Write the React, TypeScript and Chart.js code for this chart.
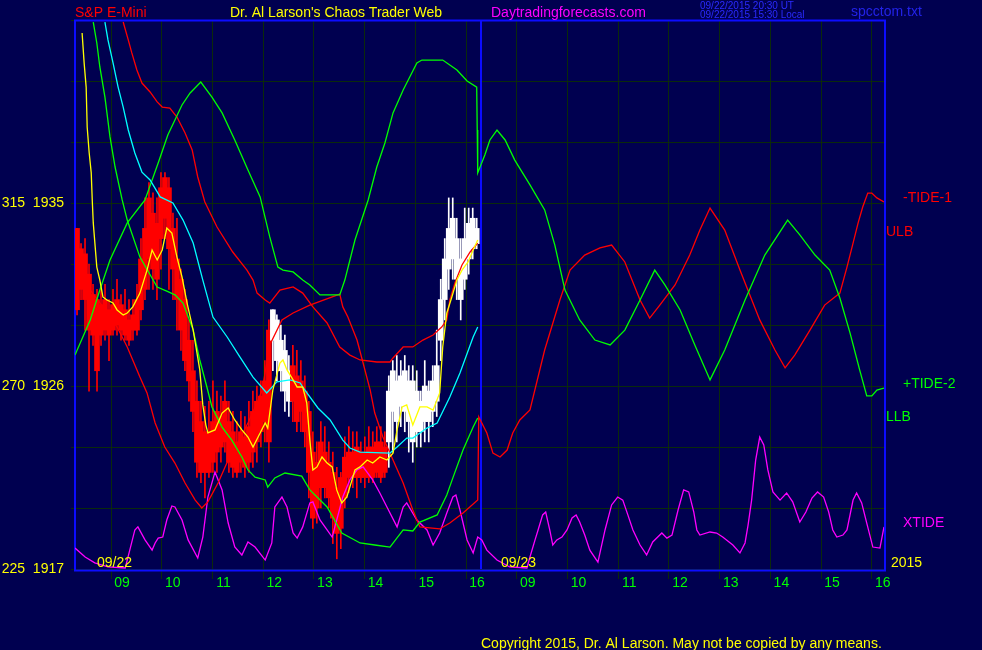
import { useEffect, useRef } from "react";
import { Chart, registerables } from "chart.js";

Chart.register(...registerables);

// ---------- axes ----------
const T_MIN = 8.29;
const T_MAX = 24.24;
const DAY_SPLIT = 16.29;
const HOUR_TICKS = [9, 10, 11, 12, 13, 14, 15, 16, 17, 18, 19, 20, 21, 22, 23, 24];
const HOUR_LABELS = ["09", "10", "11", "12", "13", "14", "15", "16", "09", "10", "11", "12", "13", "14", "15", "16"];
const P_MIN = 1917;
const P_MAX = 1944;
const P_STEP = 3;
const PRICE_LABELS = [1917, 1926, 1935];
const TIDE_LABELS = [225, 270, 315];

// ---------- candles (day 1) ----------
const BAR_T0 = 8.33;
const BAR_STEP = 0.0788;
const OPEN = [
  1933.75, 1932.75, 1932.5, 1931.5, 1930.5, 1930.25, 1928.5, 1930.25, 1929.75, 1928.75,
  1930.25, 1930, 1928.5, 1929.25, 1928.75, 1928.75, 1929.75, 1930.75, 1932.25, 1934.5,
  1931.25, 1933.25, 1934.25, 1935.75, 1933.75, 1932.25, 1931.25, 1930.25, 1928.25, 1926.75,
  1925.25, 1924.25, 1921.75, 1923.75, 1922.25, 1924.75, 1923, 1923.25, 1924.25, 1923.75,
  1921.75, 1923.75, 1922, 1924, 1922.75, 1923.25, 1925.5, 1924.25, 1923.25, 1928.25,
  1929.25, 1928.25, 1925.75, 1926.75, 1927, 1926.5, 1924.75, 1925.75, 1924.75, 1922.75,
  1920, 1923.25, 1921, 1922.25, 1921.75, 1921, 1919, 1920.5, 1922.75, 1921.5,
  1923, 1921.5, 1922.75, 1921.5, 1923, 1921.75, 1923.25, 1921.75, 1923.25, 1924.75,
  1926.25, 1925, 1924.75, 1926.25, 1923.25, 1925.75, 1923.75, 1924.25, 1925.75, 1924.75,
  1925.25, 1928.25, 1930.25, 1931.75, 1932.25, 1933.25, 1932.25, 1931.25, 1932.25, 1934.25, 1933,
];
const HIGH = [
  1933.75, 1933, 1933.25, 1932, 1931, 1930.75, 1930.75, 1931, 1930.25, 1930.75,
  1931.25, 1930.5, 1930.75, 1930.25, 1930.25, 1931, 1933.25, 1935.25, 1936, 1935.5,
  1935.25, 1936.5, 1936.5, 1936.25, 1934.5, 1934.25, 1931.75, 1930.75, 1929.25, 1928.25,
  1926.25, 1925.25, 1925, 1925.25, 1926.25, 1925.75, 1925.5, 1926.25, 1925.25, 1924.75,
  1924.25, 1924.75, 1924.5, 1925.25, 1925.75, 1926, 1926.25, 1927.25, 1929.25, 1929.75,
  1929.5, 1929, 1928.5, 1927.5, 1928, 1927.75, 1927.25, 1926.5, 1925.25, 1923.75,
  1923.25, 1924.25, 1924, 1923.25, 1922.75, 1922, 1921.75, 1923.5, 1924, 1923.75,
  1923.75, 1923.25, 1923.5, 1924, 1923.75, 1924, 1924, 1923.75, 1926.5, 1927.25,
  1927.5, 1927.25, 1927.5, 1927, 1927, 1926.75, 1925.75, 1927.25, 1926.25, 1927,
  1928.75, 1931.25, 1933.25, 1935.25, 1935.25, 1934.25, 1933.25, 1934.75, 1934.75, 1934.75, 1934.25,
];
const LOW = [
  1929.5, 1930.25, 1928.75, 1925.75, 1928, 1925.75, 1928, 1928.25, 1927.25, 1928.5,
  1928.5, 1928.25, 1928.25, 1928, 1928.25, 1928.5, 1929.25, 1930.25, 1930.75, 1930.75,
  1930.25, 1931.75, 1933.25, 1930.75, 1930.25, 1928.75, 1927.75, 1926.75, 1925.25, 1923.75,
  1921.5, 1921.25, 1920.5, 1921.5, 1921.75, 1921.75, 1922.25, 1922.75, 1921.75, 1921.5,
  1921.5, 1921.75, 1921.5, 1921.75, 1922, 1922.25, 1923, 1923.25, 1922.25, 1926.75,
  1926.25, 1925.75, 1924.75, 1924.5, 1924.25, 1923.75, 1923.75, 1923, 1920.5, 1919,
  1919.25, 1920, 1920.5, 1920, 1918.25, 1917.5, 1918, 1920, 1920.75, 1921,
  1920.5, 1921.25, 1921, 1921.25, 1921.25, 1921.5, 1921.25, 1921.5, 1922, 1922.75,
  1923.25, 1924, 1923.75, 1922.75, 1922.25, 1923, 1923, 1923.25, 1923.25, 1924,
  1924.5, 1927.25, 1929.25, 1930.75, 1931.25, 1930.25, 1929.25, 1930.75, 1931.5, 1932.25, 1932.75,
];
const CLOSE = [
  1929.75, 1930.75, 1930.25, 1928.75, 1928.5, 1926.75, 1930, 1928.75, 1928.5, 1930,
  1929, 1928.75, 1929.75, 1928.25, 1929.5, 1930.25, 1932.25, 1933.75, 1935.25, 1931.75,
  1934, 1935.75, 1936.25, 1932.75, 1931.75, 1930.25, 1928.75, 1927.25, 1926.25, 1924.75,
  1922.25, 1921.75, 1923.75, 1921.75, 1924.25, 1922.75, 1924.5, 1925.25, 1922.25, 1922,
  1923.25, 1922.25, 1923.5, 1922.25, 1924.75, 1925.25, 1923.75, 1926.25, 1928.75, 1929.75,
  1927.25, 1926.75, 1927.75, 1925.25, 1925.25, 1924.25, 1926.25, 1923.75, 1921.75, 1919.5,
  1922.25, 1921, 1922.75, 1920.5, 1919.5, 1918.75, 1921.5, 1922.5, 1921.5, 1922.75,
  1921.5, 1922.75, 1921.5, 1923, 1921.5, 1923.25, 1921.5, 1923, 1925.75, 1926.75,
  1924.25, 1926.5, 1926.75, 1924.25, 1926.25, 1923.75, 1925.25, 1926, 1924.25, 1926.25,
  1927, 1930.25, 1932.25, 1933.75, 1934.25, 1931.25, 1930.25, 1933.25, 1934, 1932.75, 1933.75,
];
const WHITE_BAR_RANGES = [[49, 53], [78, 100]];

// ---------- lines: [time, price] ----------
const YELLOW_MA = [
  [8.43, 1943.36], [8.47, 1941.89], [8.51, 1940.7], [8.53, 1938.74], [8.57, 1937.46], [8.61, 1936.48],
  [8.63, 1935.15], [8.65, 1934.02], [8.72, 1931.85], [8.78, 1931.21], [8.84, 1930.38], [8.92, 1930.23],
  [9.04, 1930.08], [9.12, 1929.74], [9.24, 1929.49], [9.32, 1929.59], [9.43, 1929.89], [9.57, 1930.57],
  [9.71, 1931.7], [9.81, 1932.69], [9.91, 1932.2], [10.01, 1932.69], [10.1, 1933.77], [10.2, 1933.52],
  [10.3, 1932.34], [10.4, 1931.36], [10.5, 1930.08], [10.62, 1928.75], [10.75, 1926.79], [10.81, 1925.07],
  [10.87, 1924.08], [10.91, 1923.69], [11.05, 1923.84], [11.19, 1924.67], [11.31, 1924.92], [11.44, 1924.33],
  [11.58, 1923.84], [11.7, 1923.49], [11.8, 1923.0], [11.9, 1923.49], [12.04, 1924.18], [12.09, 1923.93],
  [12.19, 1925.8], [12.33, 1927.13], [12.39, 1927.28], [12.47, 1926.79], [12.59, 1926.3], [12.67, 1925.95],
  [12.78, 1925.95], [12.86, 1925.16], [12.92, 1923.34], [12.98, 1921.87], [13.06, 1922.02], [13.16, 1922.51],
  [13.26, 1922.21], [13.36, 1922.02], [13.45, 1920.89], [13.55, 1920.25], [13.65, 1920.54], [13.81, 1921.87],
  [13.91, 1922.02], [14.05, 1922.36], [14.16, 1922.21], [14.3, 1922.51], [14.44, 1922.36], [14.56, 1922.7],
  [14.64, 1923.84], [14.74, 1924.97], [14.83, 1925.07], [14.95, 1924.08], [15.09, 1924.97], [15.23, 1924.97],
  [15.35, 1924.82], [15.48, 1925.66], [15.54, 1927.92], [15.62, 1929.59], [15.72, 1930.38], [15.82, 1931.21],
  [15.92, 1931.7], [16.04, 1932.1], [16.14, 1932.69], [16.23, 1933.18],
];
const CYAN_MA = [
  [8.88, 1943.9], [8.94, 1943.02], [9.04, 1941.89], [9.14, 1940.7], [9.24, 1939.72], [9.34, 1938.59],
  [9.47, 1937.46], [9.61, 1936.52], [9.77, 1936.13], [9.97, 1935.3], [10.22, 1935.0], [10.42, 1934.16],
  [10.62, 1933.03], [10.81, 1931.21], [11.01, 1929.39], [11.29, 1928.41], [11.54, 1927.43], [11.8, 1926.44],
  [12.07, 1925.66], [12.27, 1926.2], [12.53, 1926.3], [12.73, 1926.15], [12.78, 1925.95], [13.08, 1924.92],
  [13.32, 1924.33], [13.57, 1923.34], [13.71, 1922.95], [13.91, 1922.75], [14.5, 1922.7], [14.64, 1923.0],
  [14.83, 1923.44], [14.95, 1923.44], [15.23, 1923.93], [15.43, 1924.18], [15.68, 1925.46], [15.88, 1926.64],
  [16.14, 1928.41], [16.23, 1928.9],
];
const TIDE_2 = [
  [8.29, 1927.52], [8.59, 1929.25], [8.78, 1930.72], [8.98, 1932.2], [9.32, 1934.02], [9.67, 1935.15],
  [9.93, 1936.97], [10.12, 1938.34], [10.26, 1939.08], [10.4, 1939.82], [10.56, 1940.41], [10.77, 1940.95],
  [10.99, 1940.21], [11.19, 1939.43], [11.44, 1938.1], [11.7, 1936.62], [11.94, 1935.3], [12.13, 1933.33],
  [12.29, 1931.85], [12.39, 1931.7], [12.59, 1931.61], [12.78, 1931.21], [12.92, 1930.97], [13.12, 1930.48],
  [13.51, 1930.48], [13.61, 1931.21], [13.81, 1933.18], [14.07, 1935.15], [14.24, 1936.77], [14.4, 1937.95],
  [14.56, 1939.43], [14.76, 1940.56], [14.89, 1941.2], [15.03, 1941.89], [15.13, 1942.03], [15.54, 1942.03],
  [15.82, 1941.54], [16.02, 1941.0], [16.21, 1940.7], [16.22, 1938.59], [16.23, 1936.48], [16.37, 1937.36],
  [16.47, 1938.1], [16.61, 1938.59], [16.77, 1938.1], [16.96, 1937.11], [17.26, 1935.89], [17.55, 1934.66],
  [17.75, 1932.93], [17.95, 1930.72], [18.24, 1929.25], [18.54, 1928.26], [18.84, 1928.02], [19.13, 1928.75],
  [19.43, 1930.23], [19.72, 1931.7], [19.92, 1930.97], [20.22, 1929.74], [20.51, 1928.02], [20.81, 1926.3],
  [21.1, 1927.77], [21.5, 1930.23], [21.89, 1932.44], [22.34, 1934.16], [22.58, 1933.43], [22.88, 1932.44],
  [23.17, 1931.7], [23.37, 1930.33], [23.57, 1928.61], [23.76, 1926.79], [23.9, 1925.51], [24.0, 1925.51],
  [24.1, 1925.8], [24.24, 1925.9],
];
const LLB = [
  [8.65, 1943.9], [8.72, 1942.87], [8.78, 1941.69], [8.88, 1940.21], [8.98, 1938.25], [9.08, 1936.77],
  [9.22, 1935.15], [9.32, 1934.16], [9.57, 1932.34], [9.91, 1930.87], [10.1, 1930.67], [10.26, 1930.48],
  [10.42, 1930.08], [10.62, 1928.75], [10.75, 1927.28], [10.89, 1925.95], [10.99, 1924.97], [11.19, 1923.98],
  [11.38, 1923.34], [11.58, 1922.51], [11.7, 1921.87], [11.84, 1921.52], [12.04, 1921.38], [12.09, 1921.03],
  [12.23, 1921.48], [12.43, 1921.72], [12.76, 1921.57], [12.92, 1920.89], [13.26, 1920.05], [13.55, 1918.77],
  [13.91, 1918.28], [14.2, 1918.18], [14.5, 1918.08], [14.76, 1918.92], [14.95, 1918.87], [15.09, 1919.31],
  [15.43, 1919.66], [15.62, 1920.64], [15.74, 1921.48], [15.94, 1922.85], [16.14, 1923.98], [16.23, 1924.43],
];
const ULB = [
  [9.24, 1943.9], [9.34, 1943.02], [9.41, 1942.38], [9.51, 1941.54], [9.61, 1940.9], [9.77, 1940.46],
  [9.91, 1939.97], [10.01, 1939.72], [10.16, 1939.67], [10.3, 1939.23], [10.46, 1938.44], [10.6, 1937.61],
  [10.71, 1936.28], [10.85, 1935.05], [11.09, 1933.82], [11.4, 1932.59], [11.68, 1931.7], [11.8, 1931.21],
  [11.88, 1930.57], [12.04, 1930.23], [12.13, 1930.08], [12.33, 1930.72], [12.59, 1930.87], [12.78, 1930.57],
  [12.98, 1929.89], [13.26, 1929.1], [13.51, 1927.92], [13.71, 1927.52], [13.91, 1927.28], [14.24, 1927.18],
  [14.5, 1927.18], [14.56, 1927.38], [14.76, 1927.92], [14.95, 1927.92], [15.15, 1928.26], [15.35, 1928.51],
  [15.52, 1928.9], [15.62, 1929.25], [15.68, 1930.23], [15.78, 1931.07], [15.92, 1931.95], [16.08, 1932.59],
  [16.23, 1933.03],
];
const TIDE_1 = [
  [8.35, 1931.95], [8.59, 1930.72], [8.84, 1929.89], [9.12, 1928.9], [9.32, 1927.92], [9.57, 1926.44],
  [9.71, 1925.66], [9.87, 1924.18], [10.06, 1923.0], [10.26, 1922.21], [10.46, 1921.23], [10.66, 1920.39],
  [10.79, 1920.0], [10.91, 1920.3], [11.11, 1921.23], [11.31, 1922.36], [11.5, 1923.2], [11.7, 1924.18],
  [11.88, 1925.16], [11.98, 1925.8], [12.13, 1928.02], [12.37, 1929.25], [12.59, 1929.59], [12.92, 1929.98],
  [13.51, 1930.52], [13.57, 1929.89], [13.67, 1929.39], [13.85, 1928.26], [13.97, 1927.13], [14.11, 1925.8],
  [14.2, 1924.67], [14.36, 1923.49], [14.56, 1922.36], [14.76, 1921.23], [14.95, 1919.9], [15.09, 1919.07],
  [15.48, 1918.97], [15.68, 1919.26], [15.94, 1919.75], [16.23, 1920.39], [16.25, 1924.48], [16.41, 1923.69],
  [16.53, 1922.7], [16.67, 1922.51], [16.81, 1922.85], [16.92, 1923.69], [17.06, 1924.33], [17.26, 1924.82],
  [17.55, 1927.77], [17.85, 1930.23], [18.05, 1931.7], [18.34, 1932.44], [18.64, 1932.79], [18.87, 1932.93],
  [19.13, 1932.1], [19.43, 1930.23], [19.62, 1929.34], [19.82, 1929.98], [20.12, 1930.97], [20.41, 1932.44],
  [20.61, 1933.67], [20.81, 1934.75], [21.1, 1933.67], [21.4, 1931.7], [21.79, 1929.25], [22.09, 1927.77],
  [22.29, 1926.89], [22.48, 1927.52], [22.78, 1928.75], [23.07, 1929.98], [23.37, 1930.57], [23.51, 1931.85],
  [23.63, 1933.03], [23.73, 1934.02], [23.82, 1934.8], [23.92, 1935.49], [24.0, 1935.49], [24.1, 1935.25],
  [24.24, 1935.05],
];
const XTIDE = [
  [8.29, 1918.03], [8.49, 1917.59], [8.68, 1917.3], [8.94, 1917.1], [9.28, 1917.05], [9.37, 1917.93],
  [9.47, 1918.92], [9.53, 1919.07], [9.67, 1918.43], [9.81, 1917.93], [9.87, 1918.28], [9.93, 1918.52],
  [10.02, 1918.57], [10.1, 1919.41], [10.2, 1920.1], [10.26, 1920.05], [10.4, 1919.41], [10.52, 1918.43],
  [10.71, 1917.54], [10.81, 1918.57], [10.91, 1920.54], [11.05, 1921.77], [11.19, 1920.89], [11.31, 1919.26],
  [11.44, 1918.08], [11.58, 1917.69], [11.7, 1918.33], [11.84, 1918.08], [12.04, 1917.44], [12.17, 1918.28],
  [12.23, 1920.05], [12.37, 1920.54], [12.47, 1920.05], [12.59, 1918.77], [12.67, 1918.52], [12.78, 1919.07],
  [12.92, 1920.25], [12.98, 1920.3], [13.12, 1919.41], [13.26, 1918.92], [13.36, 1918.57], [13.45, 1919.41],
  [13.57, 1920.54], [13.71, 1921.38], [13.85, 1921.87], [13.97, 1922.02], [14.16, 1921.38], [14.3, 1920.74],
  [14.44, 1920.05], [14.64, 1919.07], [14.76, 1920.05], [14.83, 1920.25], [15.03, 1919.41], [15.23, 1918.92],
  [15.35, 1918.18], [15.48, 1918.77], [15.62, 1919.75], [15.74, 1920.54], [15.8, 1920.64], [15.88, 1919.9],
  [16.02, 1918.43], [16.14, 1917.79], [16.23, 1918.57], [16.31, 1918.43], [16.41, 1917.93], [16.61, 1917.44],
  [16.86, 1917.1], [17.2, 1917.05], [17.26, 1917.59], [17.36, 1918.43], [17.42, 1918.92], [17.51, 1919.66],
  [17.57, 1919.8], [17.65, 1918.92], [17.71, 1918.18], [17.79, 1918.43], [17.89, 1918.57], [17.99, 1918.92],
  [18.09, 1919.51], [18.17, 1919.66], [18.24, 1919.31], [18.34, 1918.67], [18.44, 1917.93], [18.6, 1917.34],
  [18.74, 1918.92], [18.87, 1920.15], [18.99, 1920.54], [19.09, 1920.39], [19.19, 1919.66], [19.29, 1918.92],
  [19.43, 1918.18], [19.56, 1917.69], [19.68, 1918.33], [19.86, 1918.77], [19.96, 1918.52], [20.06, 1918.67],
  [20.18, 1919.9], [20.29, 1920.89], [20.39, 1920.79], [20.49, 1919.8], [20.55, 1918.92], [20.61, 1918.67],
  [20.81, 1918.82], [20.94, 1918.77], [21.06, 1918.57], [21.26, 1918.18], [21.4, 1917.79], [21.5, 1918.28],
  [21.56, 1919.16], [21.63, 1920.39], [21.71, 1922.36], [21.79, 1923.49], [21.87, 1923.1], [21.95, 1921.87],
  [22.05, 1920.79], [22.19, 1920.39], [22.32, 1920.74], [22.44, 1920.3], [22.58, 1919.31], [22.7, 1919.8],
  [22.82, 1920.49], [22.93, 1920.79], [23.05, 1920.54], [23.15, 1919.8], [23.23, 1918.92], [23.31, 1918.57],
  [23.43, 1918.67], [23.51, 1918.92], [23.63, 1920.39], [23.7, 1920.74], [23.8, 1920.25], [23.9, 1919.26],
  [24.02, 1918.08], [24.16, 1918.03], [24.24, 1919.07],
];

// ---------- texts ----------
const TITLE_SYMBOL = "S&P E-Mini";
const TITLE_MAIN = "Dr. Al Larson's Chaos Trader Web";
const TITLE_SITE = "Daytradingforecasts.com";
const STAMP_UT = "09/22/2015 20:30 UT";
const STAMP_LOCAL = "09/22/2015 15:30 Local";
const FILE_NAME = "spcctom.txt";
const DAY1 = "09/22";
const DAY2 = "09/23";
const YEAR = "2015";
const COPYRIGHT = "Copyright 2015, Dr. Al Larson. May not be copied by any means.";

const BG = "#000050";
const GRID = "#0b2a0b";
const BORDER = "#0c0cff";
const FONT = "'Liberation Sans', Arial, Helvetica, sans-serif";

const isWhite = (i: number) => WHITE_BAR_RANGES.some(([a, b]) => i >= a && i <= b);
const toXY = (arr: number[][]) => arr.map(([x, y]) => ({ x, y }));

const overlayPlugin = {
  id: "overlay",
  beforeDraw(chart: any) {
    const ctx = chart.ctx;
    ctx.save();
    ctx.fillStyle = BG;
    ctx.fillRect(0, 0, chart.width, chart.height);
    ctx.restore();
  },
  beforeDatasetsDraw(chart: any) {
    const { ctx, chartArea: a, scales } = chart;
    ctx.save();
    ctx.strokeStyle = BORDER;
    ctx.lineWidth = 2;
    ctx.strokeRect(a.left, a.top + 0.5, a.right - a.left + 1, a.bottom - a.top + 1);
    const sx = Math.round(scales.x.getPixelForValue(DAY_SPLIT));
    ctx.beginPath();
    ctx.moveTo(sx, a.top);
    ctx.lineTo(sx, a.bottom);
    ctx.stroke();
    ctx.restore();
  },
  afterDraw(chart: any) {
    const ctx = chart.ctx;
    ctx.save();
    ctx.textBaseline = "alphabetic";
    ctx.textAlign = "left";
    const put = (t: string, x: number, y: number, color: string, size = 14) => {
      ctx.font = `${size}px ${FONT}`;
      ctx.fillStyle = color;
      ctx.fillText(t, x, y);
    };
    put(TITLE_SYMBOL, 75, 17, "#ff0000");
    put(TITLE_MAIN, 230, 17, "#ffff00");
    put(TITLE_SITE, 491, 17, "#ff00ff");
    put(STAMP_UT, 700, 9, "#2a2aff", 10);
    put(STAMP_LOCAL, 700, 18, "#2a2aff", 10);
    put(FILE_NAME, 851, 16, "#2222e8");
    put("-TIDE-1", 903, 202, "#ff0000");
    put("ULB", 886, 236, "#ff0000");
    put("+TIDE-2", 903, 388, "#00ff00");
    put("LLB", 886, 421, "#00ff00");
    put("XTIDE", 903, 527, "#ff00ff");
    put(DAY1, 97, 567, "#ffff00");
    put(DAY2, 501, 567, "#ffff00");
    put(YEAR, 891, 567, "#ffff00");
    put(COPYRIGHT, 481, 648, "#ffff00");
    ctx.restore();
  },
};

export default function App() {
  const ref = useRef<HTMLCanvasElement>(null);
  useEffect(() => {
    const canvas = ref.current;
    if (!canvas) return;
    Chart.defaults.font.family = FONT;
    const wicks = HIGH.map((h, i) => ({ x: BAR_T0 + i * BAR_STEP, y: [LOW[i], h] }));
    const bodies = OPEN.map((o, i) => ({
      x: BAR_T0 + i * BAR_STEP,
      y: [Math.min(o, CLOSE[i]), Math.max(o, CLOSE[i])],
    }));
    const barColors = OPEN.map((_, i) => (isWhite(i) ? "#ffffff" : "#ff0000"));
    const line = (data: number[][], color: string, order: number) => ({
      type: "line" as const,
      data: toXY(data),
      borderColor: color,
      borderWidth: 1.3,
      pointRadius: 0,
      tension: 0,
      fill: false,
      order,
    });
    const chart = new Chart(canvas, {
      type: "bar",
      data: {
        datasets: [
          line(XTIDE, "#ff00ff", 6),
          line(TIDE_1, "#ff0000", 5),
          line(ULB, "#ff0000", 5),
          line(TIDE_2, "#00ff00", 4),
          line(LLB, "#00ff00", 4),
          line(CYAN_MA, "#00ffff", 2),
          line(YELLOW_MA, "#ffff00", 1),
          {
            type: "bar" as const,
            data: wicks as any,
            backgroundColor: barColors,
            barThickness: 1,
            grouped: false,
            order: 20,
          },
          {
            type: "bar" as const,
            data: bodies as any,
            backgroundColor: barColors,
            barThickness: 5,
            grouped: false,
            order: 19,
          },
        ] as any,
      },
      plugins: [overlayPlugin],
      options: {
        responsive: false,
        devicePixelRatio: 1,
        animation: false,
        events: [],
        layout: { padding: { left: 0, right: 98, top: 20, bottom: 0 } },
        plugins: { legend: { display: false }, tooltip: { enabled: false } },
        scales: {
          x: {
            type: "linear",
            min: T_MIN,
            max: T_MAX,
            offset: false,
            border: { display: false },
            grid: { color: GRID, offset: false, tickLength: 10, lineWidth: 1 },
            afterBuildTicks: (s: any) => {
              s.ticks = HOUR_TICKS.map((v) => ({ value: v }));
            },
            afterFit: (s: any) => {
              s.height = 81;
            },
            ticks: {
              autoSkip: false,
              maxRotation: 0,
              minRotation: 0,
              color: "#00ff00",
              font: { size: 14, family: FONT },
              labelOffset: 11,
              padding: -4,
              callback: (v: any) => {
                const i = HOUR_TICKS.indexOf(Number(v));
                return i >= 0 ? HOUR_LABELS[i] : "";
              },
            },
          },
          y: {
            type: "linear",
            min: P_MIN,
            max: P_MAX,
            border: { display: false },
            grid: { color: GRID, tickLength: 4, lineWidth: 1 },
            afterFit: (s: any) => {
              s.width = 75;
            },
            ticks: {
              stepSize: P_STEP,
              color: "#ffff00",
              font: { size: 14, family: FONT },
              padding: 7,
              callback: (v: any) => {
                const i = PRICE_LABELS.indexOf(Number(v));
                return i >= 0 ? `${TIDE_LABELS[i]}  ${PRICE_LABELS[i]}` : "";
              },
            },
          },
        },
      } as any,
    });
    return () => chart.destroy();
  }, []);
  return (
    <div style={{ position: "fixed", left: 0, top: 0, width: 982, height: 650, background: BG }}>
      <canvas ref={ref} width={982} height={650} style={{ display: "block", width: 982, height: 650 }} />
    </div>
  );
}
